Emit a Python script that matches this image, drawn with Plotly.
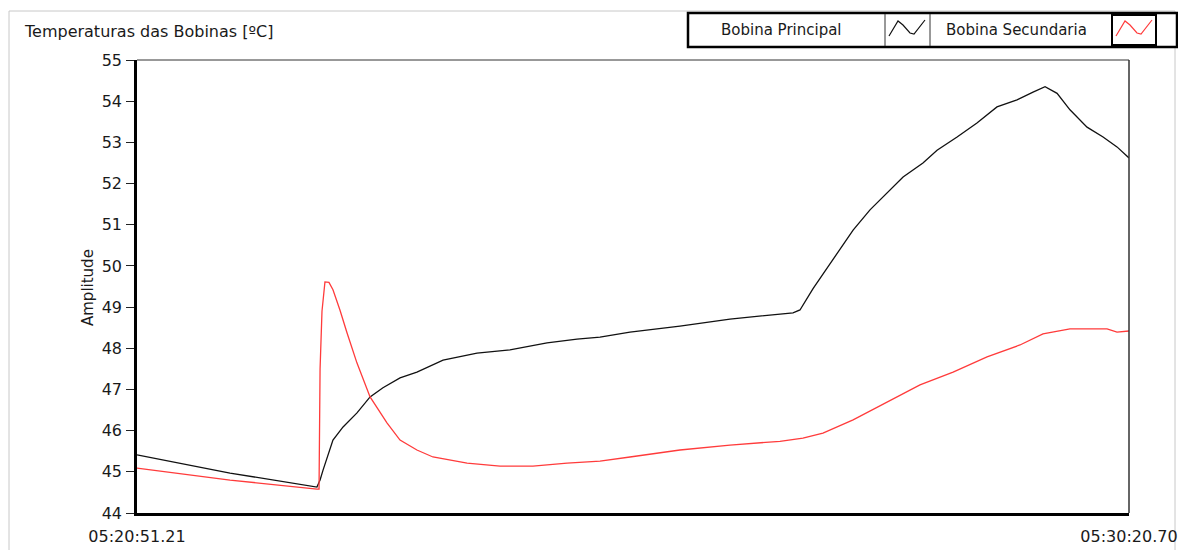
import plotly.graph_objects as go

# Elapsed time in seconds from 05:20:51.21, temperature in °C
tempo_principal = [0, 53.4, 103.3, 105.1, 106.8, 112.5, 118.3, 126.3, 133.8, 141.2,
                   151.0, 160.7, 175.7, 195.2, 214.1, 235.4, 252.6, 265.8, 283.0, 311.7,
                   340.4, 361.7, 376.6, 380.6, 388.1, 393.8, 401.9, 411.1, 420.8, 430.6,
                   439.8, 451.2, 459.3, 470.8, 482.2, 493.7, 505.2, 514.4, 521.3, 528.2,
                   535.6, 545.4, 554.6, 562.6, 569.49]
temp_principal = [45.41, 44.97, 44.63, 44.80, 45.04, 45.77, 46.09, 46.43, 46.82, 47.04,
                  47.28, 47.42, 47.71, 47.88, 47.96, 48.13, 48.22, 48.27, 48.39, 48.54,
                  48.71, 48.80, 48.86, 48.93, 49.45, 49.80, 50.31, 50.87, 51.36, 51.77,
                  52.16, 52.50, 52.81, 53.13, 53.47, 53.86, 54.03, 54.22, 54.35, 54.19,
                  53.79, 53.37, 53.13, 52.89, 52.62]

tempo_secundaria = [0, 53.4, 103.3, 104.5, 105.1, 106.2, 107.9, 110.2, 112.5, 116.5,
                    120.6, 126.3, 133.8, 143.5, 151.0, 160.7, 169.9, 189.5, 208.4, 227.3,
                    246.9, 265.8, 283.0, 311.7, 340.4, 369.1, 382.3, 393.8, 411.1, 430.6,
                    449.5, 468.5, 488.0, 506.9, 520.1, 535.6, 556.9, 562.6, 569.49]
temp_secundaria = [45.09, 44.80, 44.58, 44.58, 47.50, 48.90, 49.61, 49.60, 49.42, 48.93,
                   48.37, 47.64, 46.82, 46.19, 45.77, 45.53, 45.36, 45.21, 45.14, 45.14,
                   45.21, 45.26, 45.36, 45.53, 45.65, 45.74, 45.82, 45.94, 46.26, 46.70,
                   47.11, 47.42, 47.79, 48.08, 48.35, 48.47, 48.47, 48.39, 48.42]

x_tick_vals = [0, 569.49]
x_tick_labels = ["05:20:51.21", "05:30:20.70"]
y_tick_vals = list(range(44, 56))

W, H = 1178, 550
L, R, T, B = 137, 1129, 60, 513
FONT = "DejaVu Sans"
TXT = "#1a1a1a"


def px(x):
    return (x - L) / (R - L)


def py(y):
    return (B - y) / (B - T)


fig = go.Figure()
fig.add_trace(go.Scatter(x=tempo_principal, y=temp_principal, mode="lines",
                         name="Bobina Principal",
                         line=dict(color="#111111", width=1.3)))
fig.add_trace(go.Scatter(x=tempo_secundaria, y=temp_secundaria, mode="lines",
                         name="Bobina Secundaria",
                         line=dict(color="#ff3b3b", width=1.3)))

shapes = []
# outer panel frame
shapes.append(dict(type="rect", xref="paper", yref="paper",
                   x0=px(9), x1=px(1175), y0=py(553), y1=py(11),
                   line=dict(color="#c8c8c8", width=1), layer="below"))
# plot frame: thin top/right
shapes.append(dict(type="line", xref="paper", yref="paper",
                   x0=0, x1=1, y0=1, y1=1, line=dict(color="#333333", width=1)))
shapes.append(dict(type="line", xref="paper", yref="paper",
                   x0=1, x1=1, y0=0, y1=1, line=dict(color="#333333", width=1.5)))

# legend box
shapes.append(dict(type="rect", xref="paper", yref="paper",
                   x0=px(688), x1=px(1177), y0=py(47), y1=py(13),
                   line=dict(color="black", width=2.5), fillcolor="white"))
for xd in (885, 930, 1112, 1156):
    shapes.append(dict(type="line", xref="paper", yref="paper",
                       x0=px(xd), x1=px(xd), y0=py(46), y1=py(14),
                       line=dict(color="#333333", width=1)))
# selected swatch cell
shapes.append(dict(type="rect", xref="paper", yref="paper",
                   x0=px(1112), x1=px(1156), y0=py(45), y1=py(15),
                   line=dict(color="black", width=2)))


def zigzag(x0, color):
    pts = [(x0 + 3, 36), (x0 + 12, 21), (x0 + 17, 25), (x0 + 24, 33),
           (x0 + 28, 34), (x0 + 39, 20)]
    path = "M " + " L ".join(f"{px(a):.5f},{py(b):.5f}" for a, b in pts)
    return dict(type="path", xref="paper", yref="paper", path=path,
                line=dict(color=color, width=1.2))


shapes.append(zigzag(886, "#111111"))
shapes.append(zigzag(1113, "#ff3b3b"))

annotations = [
    dict(text="Temperaturas das Bobinas [ºC]", xref="paper", yref="paper",
         x=px(22), y=py(32), xanchor="left", yanchor="middle", showarrow=False,
         font=dict(family=FONT, size=16, color=TXT)),
    dict(text="Amplitude", xref="paper", yref="paper", x=px(88), y=py(288),
         xanchor="center", yanchor="middle", textangle=-90, showarrow=False,
         font=dict(family=FONT, size=15, color=TXT)),
    dict(text="Bobina Principal", xref="paper", yref="paper", x=px(781), y=py(30),
         xanchor="center", yanchor="middle", showarrow=False,
         font=dict(family=FONT, size=15, color=TXT)),
    dict(text="Bobina Secundaria", xref="paper", yref="paper", x=px(1016), y=py(30),
         xanchor="center", yanchor="middle", showarrow=False,
         font=dict(family=FONT, size=15, color=TXT)),
]

fig.update_layout(
    width=W, height=H,
    margin=dict(l=L, r=W - R, t=T, b=H - B, pad=0, autoexpand=False),
    paper_bgcolor="white", plot_bgcolor="white",
    showlegend=False,
    shapes=shapes, annotations=annotations,
    font=dict(family=FONT, size=15, color=TXT),
    xaxis=dict(range=[0, 569.49], tickvals=x_tick_vals, ticktext=x_tick_labels,
               showgrid=False, zeroline=False, ticks="", ticklabelstandoff=7,
               automargin=False,
               showline=True, linecolor="black", linewidth=2.5,
               tickfont=dict(family=FONT, size=16, color=TXT)),
    yaxis=dict(range=[44, 55], tickvals=y_tick_vals, showgrid=False, zeroline=False,
               ticks="outside", ticklen=8, tickcolor="#222222", tickwidth=1.2,
               ticklabelstandoff=1, automargin=False,
               showline=True, linecolor="black", linewidth=2.5,
               tickfont=dict(family=FONT, size=16, color=TXT)),
)

fig.write_html("out.html")
